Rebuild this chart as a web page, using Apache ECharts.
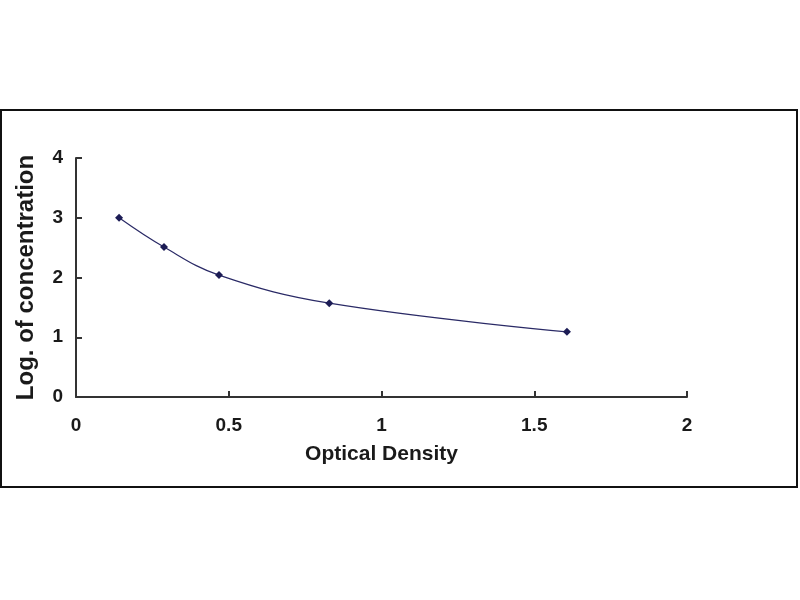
<!DOCTYPE html>
<html>
<head>
<meta charset="utf-8">
<script src="https://cdn.jsdelivr.net/npm/echarts@6/dist/echarts.min.js"></script>
<style>
html,body{margin:0;padding:0;background:#fff;}
#c{width:800px;height:600px;}
</style>
</head>
<body>
<div id="c"></div>
<script>
const opticalDensity = [0.141, 0.288, 0.468, 0.829, 1.607];
const logConcentration = [3.0, 2.51, 2.04, 1.57, 1.09];
const xTicks = [0, 0.5, 1, 1.5, 2];
const yTicks = [0, 1, 2, 3, 4];
const xTitle = 'Optical Density';
const yTitle = 'Log. of concentration';

const points = opticalDensity.map((x, i) => [x, logConcentration[i]]);
const chart = echarts.init(document.getElementById('c'), null, {renderer: 'canvas'});
const font = 'Liberation Sans, Arial, sans-serif';
chart.setOption({
  animation: false,
  backgroundColor: '#fff',
  graphic: [{
    type: 'rect',
    shape: {x: 1, y: 110, width: 796, height: 377},
    style: {fill: 'none', stroke: '#111', lineWidth: 2},
    silent: true
  }],
  grid: {left: 76, right: 113, top: 158, bottom: 203},
  xAxis: {
    type: 'value',
    min: xTicks[0], max: xTicks[xTicks.length - 1], interval: 0.5,
    name: xTitle, nameLocation: 'middle', nameGap: 47,
    nameTextStyle: {fontFamily: font, fontWeight: 'bold', fontSize: 21, color: '#1a1a1a'},
    axisLine: {show: true, lineStyle: {color: '#333', width: 2}},
    axisTick: {show: true, inside: true, length: 6, lineStyle: {color: '#333', width: 2}},
    axisLabel: {fontFamily: font, fontWeight: 'bold', fontSize: 19, color: '#1a1a1a', margin: 19,
      formatter: v => String(v)},
    splitLine: {show: false}
  },
  yAxis: {
    type: 'value',
    min: yTicks[0], max: yTicks[yTicks.length - 1], interval: 1,
    name: yTitle, nameLocation: 'middle', nameGap: 38, nameRotate: 90,
    nameTextStyle: {fontFamily: font, fontWeight: 'bold', fontSize: 24, color: '#1a1a1a'},
    axisLine: {show: true, lineStyle: {color: '#333', width: 2}},
    axisTick: {show: true, inside: true, length: 6, lineStyle: {color: '#333', width: 2}},
    axisLabel: {fontFamily: font, fontWeight: 'bold', fontSize: 19, color: '#1a1a1a', margin: 13},
    splitLine: {show: false}
  },
  series: [{
    type: 'line',
    data: points,
    smooth: 0.4,
    symbol: 'diamond',
    symbolSize: 8,
    itemStyle: {color: '#1c1c55'},
    lineStyle: {color: '#2a2a66', width: 1.2}
  }]
});
</script>
</body>
</html>
